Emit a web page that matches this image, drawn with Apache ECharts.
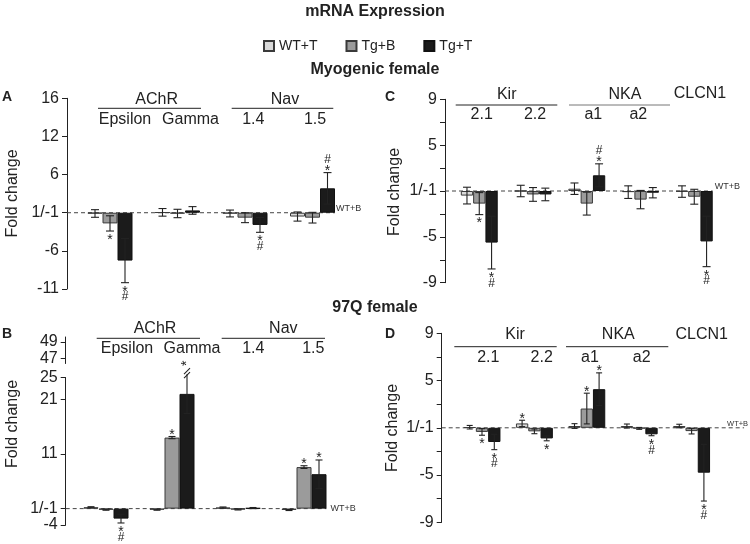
<!DOCTYPE html>
<html><head><meta charset="utf-8">
<script src="https://cdn.jsdelivr.net/npm/echarts@6/dist/echarts.min.js"></script>
<style>html,body{margin:0;padding:0;background:#fff}#c{width:750px;height:544px}</style>
</head><body><div id="c"></div>
<script>
// ---------- data (values = distance from the 1/-1 baseline, in axis units) ----------
const seriesNames = ['WT+T', 'Tg+B', 'Tg+T'];
const catsAB = ['Epsilon', 'Gamma', '1.4', '1.5'];
const catsCD = ['2.1', '2.2', 'a1', 'a2', 'CLCN1'];

// Panel A – Myogenic female, AChR / Nav
const aWT = [-0.1, 0.05, -0.1, -0.5];
const aWTErr = [0.5, 0.5, 0.45, 0.6];
const aWTSig = ['', '', '', ''];
const aTgB = [-1.4, -0.1, -0.65, -0.65];
const aTgBErr = [1.0, 0.55, 0.65, 0.7];
const aTgBSig = ['*', '', '', ''];
const aTgT = [-6.27, 0.3, -1.6, 3.2];
const aTgTErr = [2.9, 0.5, 0.97, 2.06];
const aTgTSig = ['*#', '', '*#', '*#'];

// Panel B – 97Q female, AChR / Nav
const bWT = [0.25, -0.2, 0.2, -0.25];
const bWTErr = [0.1, 0.1, 0.1, 0.1];
const bWTSig = ['', '', '', ''];
const bTgB = [-0.2, 13.0, -0.15, 7.6];
const bTgBErr = [0.1, 0.2, 0.1, 0.25];
const bTgBSig = ['', '*', '', '*'];
const bTgT = [-1.83, 21.0, 0.1, 6.3];
const bTgTErr = [0.8, 3.6, 0.1, 2.6];
const bTgTSig = ['*#', 'break*', '', '*'];

// Panel C – Myogenic female, Kir / NKA / CLCN1
const cWT = [-0.4, 0, 0.2, -0.1, -0.05];
const cWTErr = [0.73, 0.5, 0.5, 0.55, 0.5];
const cWTSig = ['', '', '', '', ''];
const cTgB = [-1.1, -0.3, -1.1, -0.75, -0.5];
const cTgBErr = [0.96, 0.6, 1.0, 0.8, 0.65];
const cTgBSig = ['*', '', '', '', ''];
const cTgT = [-4.5, -0.3, 1.37, -0.15, -4.4];
const cTgTErr = [2.3, 0.55, 1.0, 0.45, 2.2];
const cTgTSig = ['*#', '', '*#', '', '*#'];

// Panel D – 97Q female, Kir / NKA / CLCN1
const dWT = [0.05, 0.37, 0.15, 0.15, 0.15];
const dWTErr = [0.15, 0.27, 0.2, 0.17, 0.15];
const dWTSig = ['', '*', '', '', ''];
const dTgB = [-0.35, -0.3, 1.63, -0.05, -0.28];
const dTgBErr = [0.28, 0.2, 1.3, 0.08, 0.24];
const dTgBSig = ['*', '', '*', '', ''];
const dTgT = [-1.2, -0.9, 3.27, -0.55, -3.8];
const dTgTErr = [0.65, 0.2, 1.38, 0.12, 2.4];
const dTgTSig = ['*#', '*', '*', '*#', '*#'];

// tick values (axis units) and their labels
const aTickVals = [-10, -5, 0, 5, 10, 15];
const aTickLabels = ['-11', '-6', '1/-1', '6', '12', '16'];
const bUpTickVals = [46, 48];
const bUpTickLabels = ['47', '49'];
const bLowTickVals = [-3, 0, 10, 20, 24];
const bLowTickLabels = ['-4', '1/-1', '11', '21', '25'];
const cdTickVals = [-8, -4, 0, 4, 8];
const cdTickLabels = ['-9', '-5', '1/-1', '5', '9'];
const cdMinorTickVals = [-8, -6, -4, -2, 0, 2, 4, 6, 8];

// ---------- styling ----------
const FONT = '"Liberation Sans", Arial, sans-serif';
const fillColors = ['#d9d9d9', '#9b9b9b', '#1b1b1b'];
const borderColors = ['#3a3a3a', '#3a3a3a', '#111111'];
const INK = '#222';

function fmt(vals, labels) {
  return function (v) {
    for (let i = 0; i < vals.length; i++) if (Math.abs(vals[i] - v) < 1e-6) return labels[i];
    return '';
  };
}

const grids = [
  { left: 76.25, top: 98.3, width: 270, height: 190.7 },   // A
  { left: 73, top: 337, width: 264, height: 26.5 },        // B upper (break)
  { left: 73, top: 377.5, width: 264, height: 147.5 },     // B lower
  { left: 452.4, top: 99.3, width: 268.75, height: 183.4 },// C
  { left: 455.8, top: 333.3, width: 262, height: 189 }     // D
];
const axisOffsets = [9.25, 7.3, 7.3, 7.4, 14.1];

function yAx(gi, min, max, tickVals, tickLabels, tickPos) {
  return {
    type: 'value', gridIndex: gi, min: min, max: max, offset: axisOffsets[gi], position: 'left',
    axisLine: { show: true, lineStyle: { color: INK, width: 1 } },
    axisTick: { show: true, length: 5, inside: false, customValues: tickPos || tickVals, lineStyle: { color: INK, width: 1 } },
    axisLabel: { show: true, customValues: tickVals, formatter: fmt(tickVals, tickLabels), fontSize: 16, color: INK, margin: 8, fontFamily: FONT },
    splitLine: { show: false }
  };
}
const yAxes = [
  yAx(0, -10, 15, aTickVals, aTickLabels),
  yAx(1, 45.4, 48.6, bUpTickVals, bUpTickLabels),
  yAx(2, -3, 24, bLowTickVals, bLowTickLabels),
  yAx(3, -8, 8, cdTickVals, cdTickLabels, cdMinorTickVals),
  yAx(4, -8, 8, cdTickVals, cdTickLabels, cdMinorTickVals)
];
const xCats = [catsAB, catsAB, catsAB, catsCD, catsCD];
const xAxes = xCats.map((c, i) => ({
  type: 'category', gridIndex: i, data: c, boundaryGap: true, show: false
}));

const panels = [
  { grid: 0, cats: catsAB, bw: 15, cap: 8, vals: [aWT, aTgB, aTgT], errs: [aWTErr, aTgBErr, aTgTErr], sigs: [aWTSig, aTgBSig, aTgTSig],
    lineExtra: 0, wtbDx: 1, wtbFont: 9, wtbAlign: 'bottom', wtbDy: 0 },
  { grid: 2, cats: catsAB, bw: 15, cap: 7, vals: [bWT, bTgB, bTgT], errs: [bWTErr, bTgBErr, bTgTErr], sigs: [bWTSig, bTgBSig, bTgTSig],
    lineExtra: 0, wtbDx: 4, wtbFont: 9, wtbAlign: 'middle', wtbDy: 0 },
  { grid: 3, cats: catsCD, bw: 12.3, cap: 8, vals: [cWT, cTgB, cTgT], errs: [cWTErr, cTgBErr, cTgTErr], sigs: [cWTSig, cTgBSig, cTgTSig],
    lineExtra: 0, wtbDx: 2, wtbFont: 9, wtbAlign: 'bottom', wtbDy: 0 },
  { grid: 4, cats: catsCD, bw: 12.3, cap: 6, vals: [dWT, dTgB, dTgT], errs: [dWTErr, dTgBErr, dTgTErr], sigs: [dWTSig, dTgBSig, dTgTSig],
    lineExtra: 34, wtbDx: 17, wtbFont: 7.5, wtbAlign: 'bottom', wtbDy: 0 }
];

const series = [];
panels.forEach(p => {
  // dashed 1/-1 baseline with WT+B note
  series.push({
    type: 'custom', xAxisIndex: p.grid, yAxisIndex: p.grid, silent: true, z: 1, clip: false,
    data: [[0, 0]],
    renderItem: function (params, api) {
      const cs = params.coordSys;
      const y = api.coord([0, 0])[1];
      const lastX = api.coord([p.cats.length - 1, 0])[0] + 1.5 * p.bw;
      const x0 = cs.x - axisOffsets[p.grid];
      return {
        type: 'group', children: [
          { type: 'line', shape: { x1: x0, y1: y, x2: lastX + p.lineExtra, y2: y },
            style: { stroke: '#444', lineWidth: 1, lineDash: [4, 3] } },
          { type: 'text', x: lastX + p.wtbDx, y: y + (p.wtbAlign === 'bottom' ? 0.5 : 0) + p.wtbDy,
            style: { text: 'WT+B', fontSize: p.wtbFont, fontFamily: FONT, fill: '#333', align: 'left', verticalAlign: p.wtbAlign } }
        ]
      };
    }
  });
  // bars
  seriesNames.forEach((n, i) => {
    series.push({
      type: 'bar', name: n, xAxisIndex: p.grid, yAxisIndex: p.grid, data: p.vals[i],
      barWidth: p.bw, barGap: '0%', silent: true, z: 3,
      itemStyle: { color: fillColors[i], borderColor: borderColors[i], borderWidth: 1 }
    });
  });
  // error bars + significance marks
  const ed = [], sg = [];
  p.vals.forEach((arr, s) => arr.forEach((v, c) => { ed.push([c, s, v, p.errs[s][c]]); sg.push(p.sigs[s][c]); }));
  series.push({
    type: 'custom', xAxisIndex: p.grid, yAxisIndex: p.grid, silent: true, z: 5, clip: false,
    encode: { x: 0, y: 2 },
    data: ed,
    renderItem: function (params, api) {
      const c = api.value(0), s = api.value(1), v = api.value(2), e = api.value(3);
      const sig = sg[params.dataIndex];
      const x = api.coord([c, v])[0] + (s - 1) * p.bw;
      const yT = api.coord([c, v + e])[1];
      const yB = api.coord([c, v - e])[1];
      const h = p.cap / 2;
      const ls = { stroke: INK, lineWidth: 1.1 };
      const ch = [{ type: 'line', shape: { x1: x, y1: yT, x2: x, y2: yB }, style: ls }];
      const broken = sig.indexOf('break') >= 0;
      if (!broken) ch.push({ type: 'line', shape: { x1: x - h, y1: yT, x2: x + h, y2: yT }, style: ls });
      ch.push({ type: 'line', shape: { x1: x - h, y1: yB, x2: x + h, y2: yB }, style: ls });
      if (broken) {
        ch.push({ type: 'line', shape: { x1: x - 3, y1: yT + 4, x2: x + 3, y2: yT - 2 }, style: ls });
        ch.push({ type: 'line', shape: { x1: x - 3, y1: yT, x2: x + 3, y2: yT - 6 }, style: ls });
        ch.push({ type: 'text', x: x, y: yT - 11, rotation: Math.PI / 2,
          style: { text: '*', fontSize: 14, fontFamily: FONT, fill: INK, align: 'center', verticalAlign: 'middle' } });
      } else {
        const up = v >= 0;
        const yEnd = up ? yT : yB;
        if (sig.indexOf('*') >= 0) {
          ch.push({ type: 'text', x: x, y: up ? yEnd - 1.5 : yEnd + 9,
            style: { text: '*', fontSize: 14, fontFamily: FONT, fill: INK, align: 'center', verticalAlign: 'middle' } });
        }
        if (sig.indexOf('#') >= 0) {
          ch.push({ type: 'text', x: x, y: up ? yEnd - 13 : yEnd + 14.5,
            style: { text: '#', fontSize: 12, fontFamily: FONT, fill: INK, align: 'center', verticalAlign: 'middle' } });
        }
      }
      return { type: 'group', children: ch };
    }
  });
});

// ---------- text furniture ----------
const g = [];
function txt(t, x, y, opt) {
  opt = opt || {};
  g.push({ type: 'text', x: x, y: y, rotation: opt.rot || 0, silent: true,
    style: { text: t, fontSize: opt.size || 16, fontWeight: opt.bold ? 'bold' : 'normal', fontFamily: FONT,
      fill: opt.color || INK, align: opt.align || 'center', verticalAlign: 'middle' } });
}
function hline(x1, x2, y, color) {
  g.push({ type: 'line', silent: true, shape: { x1: x1, y1: y, x2: x2, y2: y }, style: { stroke: color || INK, lineWidth: 1 } });
}
txt('mRNA Expression', 375, 12, { size: 16, bold: true });
txt('Myogenic female', 375, 70, { size: 16, bold: true });
txt('97Q female', 375, 308, { size: 16, bold: true });
txt('A', 2, 97, { size: 14, bold: true, align: 'left' });
txt('B', 2, 334, { size: 14, bold: true, align: 'left' });
txt('C', 385, 97, { size: 14, bold: true, align: 'left' });
txt('D', 385, 334, { size: 14, bold: true, align: 'left' });
txt('Fold change', 13, 193.5, { rot: Math.PI / 2 });
txt('Fold change', 13, 424, { rot: Math.PI / 2 });
txt('Fold change', 395, 192, { rot: Math.PI / 2 });
txt('Fold change', 393, 428, { rot: Math.PI / 2 });
// panel A headers
txt('AChR', 156.7, 100); hline(98, 201, 108.3);
txt('Epsilon', 125, 120); txt('Gamma', 190.5, 120);
txt('Nav', 285, 100); hline(231.7, 333.3, 108.3);
txt('1.4', 253.3, 120); txt('1.5', 315, 120);
// panel B headers
txt('AChR', 155, 328.3); hline(96.7, 200, 338.3);
txt('Epsilon', 127, 349); txt('Gamma', 192, 349);
txt('Nav', 283.3, 328.3); hline(221.7, 325, 338.3);
txt('1.4', 253.3, 349); txt('1.5', 313.3, 349);
// panel C headers
txt('Kir', 506.7, 95); hline(455.7, 557.3, 105);
txt('2.1', 481.7, 115); txt('2.2', 535, 115);
txt('NKA', 625, 95); hline(569, 670, 105, '#777');
txt('a1', 593.3, 115); txt('a2', 638.3, 115);
txt('CLCN1', 700, 94);
// panel D headers
txt('Kir', 515, 335); hline(454.3, 556.7, 346.7);
txt('2.1', 488.3, 357.3); txt('2.2', 541.7, 357.3);
txt('NKA', 618.3, 335); hline(566, 668.3, 346.7);
txt('a1', 590, 357.3); txt('a2', 641.7, 357.3);
txt('CLCN1', 701.7, 335);

const chart = echarts.init(document.getElementById('c'), null, { renderer: 'canvas' });
chart.setOption({
  animation: false,
  backgroundColor: '#fff',
  legend: {
    data: seriesNames, left: 258, top: 34, itemWidth: 10, itemHeight: 10, itemGap: 28, icon: 'rect',
    textStyle: { fontSize: 14, color: INK, fontFamily: '"Liberation Sans Narrow", "Liberation Sans", Arial' },
    selectedMode: false
  },
  grid: grids,
  xAxis: xAxes,
  yAxis: yAxes,
  series: series,
  graphic: g
});
</script></body></html>
